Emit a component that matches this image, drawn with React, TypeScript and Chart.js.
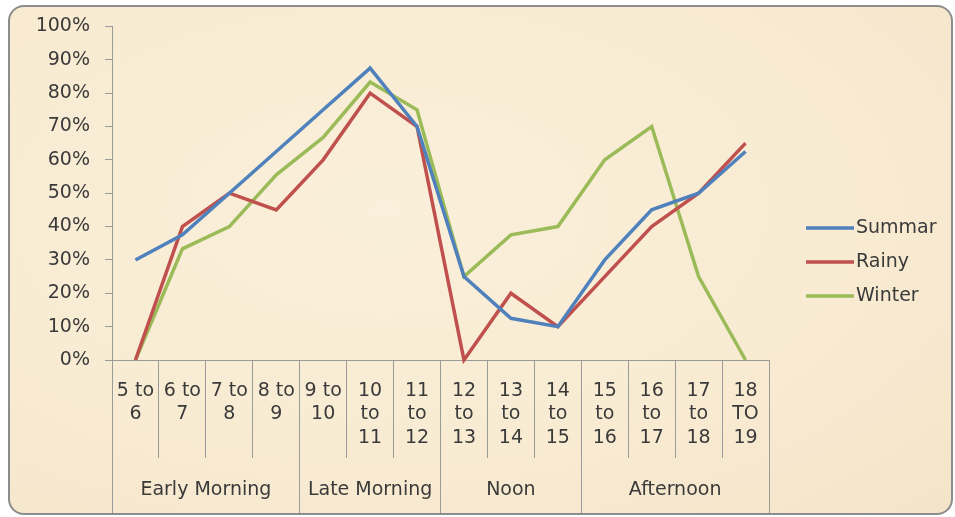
import React, { useEffect, useRef } from "react";
import { Chart, registerables } from "chart.js";

Chart.register(...registerables);

const categories: string[][] = [
  ["5 to", "6"], ["6 to", "7"], ["7 to", "8"], ["8 to", "9"], ["9 to", "10"],
  ["10", "to", "11"], ["11", "to", "12"], ["12", "to", "13"], ["13", "to", "14"],
  ["14", "to", "15"], ["15", "to", "16"], ["16", "to", "17"], ["17", "to", "18"],
  ["18", "TO", "19"],
];
const groupNames = ["Early Morning", "Late Morning", "Noon", "Afternoon"];
const groupSizes = [4, 3, 3, 4];

const summar = [30, 37.5, 50, 62.5, 75, 87.5, 70, 25, 12.5, 10, 30, 45, 50, 62.5];
const rainy = [0, 40, 50, 45, 60, 80, 70, 0, 20, 10, 25, 40, 50, 65];
const winter = [0, 33.3, 40, 55.5, 66.7, 83.3, 75, 25, 37.5, 40, 60, 70, 25, 0];

const seriesNames = ["Summar", "Rainy", "Winter"];
const seriesColors = ["#4F81BD", "#C0504D", "#9BBB59"];

const FONT = "'DejaVu Sans', sans-serif";
const FSIZE = 19;
const TEXT = "#3a3a3a";
const AXIS = "#9a9a9a";

const align = (p: number) => Math.round(p - 0.5) + 0.5;

const groupPlugin = {
  id: "groupAxis",
  afterDraw(chart: any) {
    const xs = chart.scales.x;
    const ctx = chart.ctx;
    const n = chart.data.labels.length;
    const w = (xs.right - xs.left) / n;
    ctx.save();
    ctx.strokeStyle = AXIS;
    ctx.lineWidth = 1;
    ctx.fillStyle = TEXT;
    ctx.font = `${FSIZE}px ${FONT}`;
    ctx.textAlign = "center";
    ctx.textBaseline = "middle";
    let start = 0;
    const edges: number[] = [];
    groupSizes.forEach((size, gi) => {
      const x0 = xs.getPixelForValue(start) - w / 2;
      const x1 = xs.getPixelForValue(start + size - 1) + w / 2;
      if (gi === 0) edges.push(x0);
      edges.push(x1);
      ctx.fillText(groupNames[gi], (x0 + x1) / 2, xs.top + 130);
      start += size;
    });
    edges.forEach((x) => {
      const px = align(x);
      ctx.beginPath();
      ctx.moveTo(px, xs.top);
      ctx.lineTo(px, xs.bottom - 4);
      ctx.stroke();
    });
    ctx.restore();
  },
};

const legendPlugin = {
  id: "sideLegend",
  afterDraw(chart: any) {
    const ctx = chart.ctx;
    const area = chart.chartArea;
    const x0 = area.right + 37;
    const baseY = chart.height / 2 + 3.5;
    ctx.save();
    ctx.font = `${FSIZE}px ${FONT}`;
    ctx.textAlign = "left";
    ctx.textBaseline = "middle";
    chart.data.datasets.forEach((ds: any, i: number) => {
      const y = baseY + (i - 1) * 34;
      ctx.strokeStyle = ds.borderColor;
      ctx.lineWidth = 3.5;
      ctx.beginPath();
      ctx.moveTo(x0, y);
      ctx.lineTo(x0 + 48, y);
      ctx.stroke();
      ctx.fillStyle = TEXT;
      ctx.fillText(ds.label, x0 + 50, y);
    });
    ctx.restore();
  },
};

export default function App() {
  const ref = useRef<HTMLCanvasElement>(null);
  useEffect(() => {
    if (!ref.current) return;
    const data = [summar, rainy, winter];
    const chart = new Chart(ref.current, {
      type: "line",
      data: {
        labels: categories,
        datasets: seriesNames.map((name, i) => ({
          label: name,
          data: data[i],
          borderColor: seriesColors[i],
          backgroundColor: seriesColors[i],
          borderWidth: 3.5,
          pointRadius: 0,
          tension: 0,
          clip: 4,
        })),
      },
      options: {
        animation: false,
        responsive: false,
        layout: { padding: { left: 0, top: 26, right: 186, bottom: 0 } },
        plugins: { legend: { display: false }, tooltip: { enabled: false } },
        scales: {
          x: {
            type: "category",
            offset: true,
            grid: {
              offset: true,
              drawOnChartArea: false,
              drawTicks: true,
              tickLength: 98,
              color: AXIS,
              lineWidth: 1,
            },
            border: { display: true, color: AXIS, width: 1 },
            ticks: {
              autoSkip: false,
              maxRotation: 0,
              minRotation: 0,
              padding: -79,
              color: TEXT,
              font: { family: FONT, size: FSIZE, lineHeight: 1.237 },
            },
            afterFit(scale: any) {
              scale.height = 157;
            },
          },
          y: {
            min: 0,
            max: 100,
            ticks: {
              stepSize: 10,
              padding: 15,
              color: TEXT,
              font: { family: FONT, size: FSIZE },
              callback: (v: any) => `${v}%`,
            },
            grid: {
              drawOnChartArea: false,
              drawTicks: true,
              tickLength: 7,
              color: AXIS,
            },
            border: { display: true, color: AXIS, width: 1 },
            afterFit(scale: any) {
              scale.width = 112;
            },
          },
        },
      },
      plugins: [groupPlugin, legendPlugin],
    });
    return () => chart.destroy();
  }, []);

  return (
    <div style={{ position: "absolute", left: 0, top: 0, width: 955, height: 517, background: "#ffffff", overflow: "hidden" }}>
      <div
        style={{
          position: "absolute",
          left: 8,
          top: 5,
          width: 941,
          height: 506,
          border: "2px solid #8c8c8c",
          borderRadius: 16,
          background: "radial-gradient(ellipse at 40% 40%, #FAEFDA 0%, #F8EBD2 60%, #F4E5C9 100%)",
        }}
      />
      <canvas ref={ref} width={955} height={517} style={{ position: "absolute", left: 0, top: 0, width: 955, height: 517 }} />
    </div>
  );
}
